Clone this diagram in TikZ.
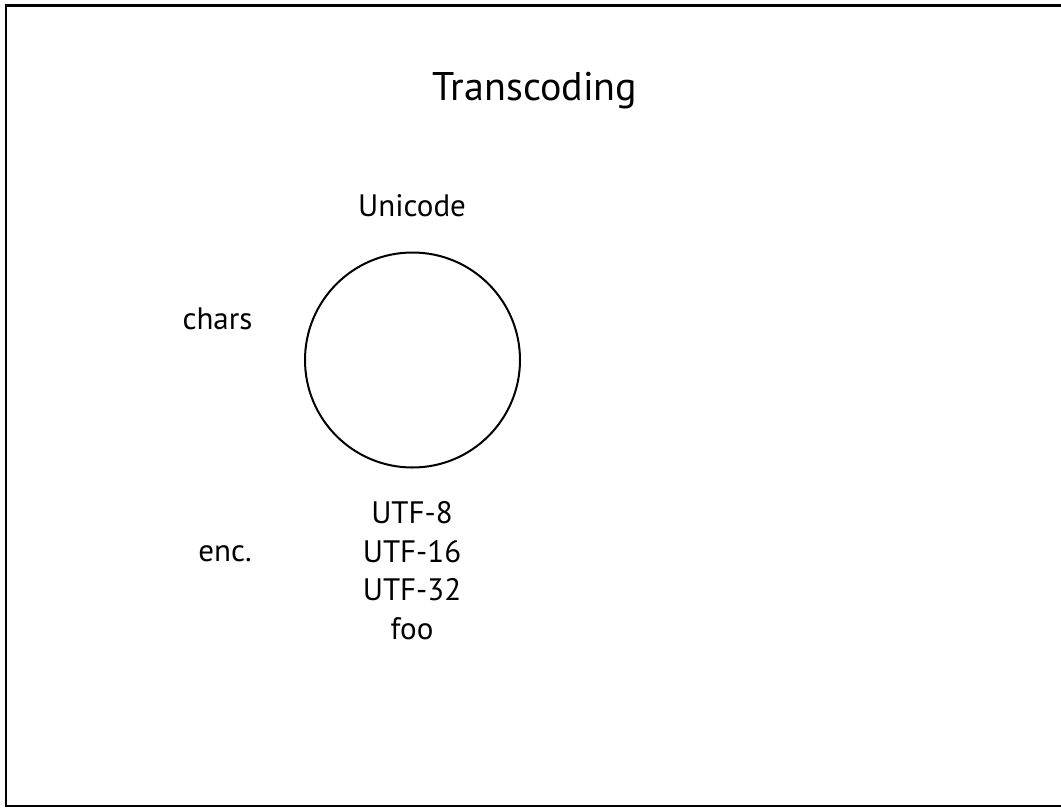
\documentclass[tikz,border=0pt]{standalone}
\usepackage{fontspec}
\setmainfont{PT Sans}
\begin{document}
\begin{tikzpicture}[x=1pt,y=-1pt,
  lbl/.style={font=\fontsize{31}{38.5}\selectfont, inner sep=0pt, anchor=base},
  ttl/.style={font=\fontsize{40}{48}\selectfont, inner sep=0pt, anchor=base},
  ring/.style={draw, circle, line width=2pt, minimum size=215pt, inner sep=0pt}]
\useasboundingbox (0,0) rectangle (1061,809);
\clip (0,0) rectangle (1061,809);
\draw[line width=2.5pt] (6.2,5.5) rectangle (1080,806);
\node[ttl] (title) at (535,100) {Transcoding};
\node[lbl] (unicode) at (412,216) {Unicode};
\node[ring] (circ) at (412.5,360) {};
\node[lbl] (chars) at (217.5,329) {chars};
\node[lbl, align=center, anchor=north] (encs) at (412,501.3) {UTF-8\\UTF-16\\UTF-32\\foo};
\node[lbl] (enc) at (225,561) {enc.};
\end{tikzpicture}
\end{document}
